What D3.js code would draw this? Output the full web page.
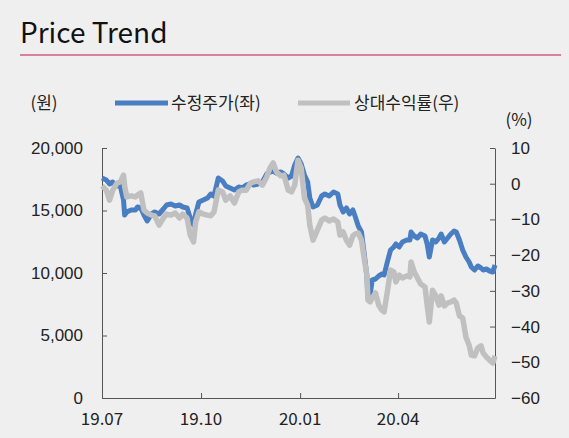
<!DOCTYPE html>
<html>
<head>
<meta charset="utf-8">
<script src="https://cdn.jsdelivr.net/npm/d3@7"></script>
<style>
  body { margin: 0; background: #efefef; }
  svg { display: block; font-family: "Noto Sans CJK KR", "Noto Sans", sans-serif; }
</style>
</head>
<body>
<div id="chart"></div>
<script>

// dates of the sampled points
var dates = [
  "2019-07-01","2019-07-05","2019-07-08","2019-07-11","2019-07-15","2019-07-18","2019-07-21","2019-07-22",
  "2019-07-24","2019-07-28","2019-08-01","2019-08-03","2019-08-06","2019-08-09","2019-08-12","2019-08-16",
  "2019-08-19","2019-08-23","2019-08-27","2019-08-30","2019-09-03","2019-09-07","2019-09-11","2019-09-14",
  "2019-09-18","2019-09-21","2019-09-24","2019-09-26","2019-09-29","2019-10-03","2019-10-07","2019-10-10",
  "2019-10-13","2019-10-17","2019-10-21","2019-10-24","2019-10-28","2019-11-01","2019-11-05","2019-11-08",
  "2019-11-12","2019-11-16","2019-11-19","2019-11-23","2019-11-27","2019-12-01","2019-12-04","2019-12-07",
  "2019-12-10","2019-12-14","2019-12-17","2019-12-21","2019-12-24","2019-12-27","2019-12-30","2020-01-02",
  "2020-01-05","2020-01-08","2020-01-10","2020-01-13","2020-01-17","2020-01-21","2020-01-24","2020-01-28",
  "2020-02-01","2020-02-05","2020-02-07","2020-02-10","2020-02-13","2020-02-16","2020-02-19","2020-02-21",
  "2020-02-24","2020-02-27","2020-03-01","2020-03-03","2020-03-04","2020-03-06","2020-03-08","2020-03-11",
  "2020-03-14","2020-03-17","2020-03-19","2020-03-22","2020-03-25","2020-03-28","2020-03-30","2020-04-02",
  "2020-04-05","2020-04-09","2020-04-12","2020-04-13","2020-04-16","2020-04-19","2020-04-22","2020-04-26",
  "2020-04-28","2020-04-30","2020-05-03","2020-05-06","2020-05-09","2020-05-11","2020-05-14","2020-05-17",
  "2020-05-20","2020-05-23","2020-05-25","2020-05-28","2020-05-31","2020-06-03","2020-06-06","2020-06-08",
  "2020-06-11","2020-06-14","2020-06-17","2020-06-19","2020-06-22","2020-06-25","2020-06-28","2020-06-30"
];

// 수정주가 (원, left axis)
var price = [
  17600,17440,17120,17280,16960,16960,15840,14640,14880,15040,15040,15280,15200,14640,14160,14720,
  14880,14720,15120,15440,15520,15360,15440,15280,15200,14400,13840,14720,15680,15840,16000,16320,
  16160,17600,17360,16960,16800,16640,16880,16800,17040,17120,17040,17120,17280,17920,18080,18160,
  18000,18080,17920,17600,17760,18640,19200,18720,17840,17280,16000,15280,15440,16160,16320,16160,
  16480,16320,15440,14880,15200,14720,15040,14560,13760,13280,11200,9760,8000,8240,9440,9520,
  9760,9920,9840,10880,11840,12080,12320,12080,12480,12640,12640,13280,12960,12800,13120,12960,
  12320,11280,12640,12480,12800,13120,12480,12800,13120,13360,13280,12640,11840,11280,10880,10480,
  10240,10560,10400,10240,10320,10160,10080,10640
];

// 상대수익률 (%, right axis)
var relReturn = [
  -0.6,-1.8,-4.6,-1.8,0.2,0.5,2.4,-0.6,-3.7,-3.4,-3.7,-3.2,-2.6,-7.4,-8.2,-8.8,
  -9.0,-11.6,-9.6,-8.5,-8.8,-8.2,-9.6,-8.5,-9.6,-14.4,-16.3,-10.7,-7.9,-8.5,-8.8,-9.0,
  -7.9,-1.8,-2.3,-4.6,-3.4,-5.4,-2.3,-1.8,-1.8,0.2,0.5,0.8,-0.4,1.9,4.4,5.8,
  3.3,2.2,2.4,-1.8,-2.3,-0.4,6.6,4.4,-4.0,-6.0,-11.6,-15.8,-13.0,-10.2,-9.6,-10.4,
  -9.9,-10.7,-14.4,-13.5,-15.8,-17.2,-14.6,-14.1,-13.8,-15.8,-21.9,-25.6,-32.6,-33.1,-32.0,-30.6,
  -34.0,-35.4,-35.9,-30.3,-24.2,-24.7,-27.5,-25.6,-26.4,-25.8,-26.1,-21.9,-24.7,-26.4,-28.1,-28.9,
  -34.0,-38.7,-29.8,-31.4,-34.0,-31.4,-34.2,-33.4,-33.1,-32.6,-33.4,-37.0,-37.6,-42.9,-45.2,-48.0,
  -48.2,-46.0,-45.4,-47.4,-48.5,-49.4,-50.2,-48.2
];

// axis ticks
var leftTicks = [0, 5000, 10000, 15000, 20000];
var rightTicks = [10, 0, -10, -20, -30, -40, -50, -60];
var xTickDates = ["2019-07-01", "2019-10-01", "2020-01-01", "2020-04-01"];
var xTickLabels = ["19.07", "19.10", "20.01", "20.04"];

var seriesNames = ["수정주가(좌)", "상대수익률(우)"];
var colors = ["#4a7ec2", "#c0c0c0"];

var svgWidth = 569;
var svgHeight = 438;

var margin = { top: 148, right: 74, bottom: 40, left: 102 };
var width = svgWidth - margin.left - margin.right;
var height = svgHeight - margin.top - margin.bottom;

var parseDate = d3.timeParse("%Y-%m-%d");

var data = dates.map(function(d, i) {
  return { date: parseDate(d), price: price[i], rel: relReturn[i] };
});

var svg = d3.select("#chart")
  .append("svg")
  .attr("width", svgWidth)
  .attr("height", svgHeight);

// title and red rule
svg.append("text")
  .attr("x", 20)
  .attr("y", 43)
  .attr("font-size", "28px")
  .attr("fill", "#111")
  .text("Price Trend");

svg.append("line")
  .attr("x1", 20)
  .attr("x2", 561)
  .attr("y1", 55)
  .attr("y2", 55)
  .attr("stroke", "#d35c7c")
  .attr("stroke-width", 1.5);

var chartGroup = svg.append("g")
  .attr("transform", `translate(${margin.left}, ${margin.top})`);

// scales
var xTimeScale = d3.scaleTime()
  .domain([parseDate("2019-07-01"), parseDate("2020-06-30")])
  .range([0, width]);

var yLeftScale = d3.scaleLinear()
  .domain([0, 20000])
  .range([height, 0]);

var yRightScale = d3.scaleLinear()
  .domain([-60, 10])
  .range([height, 0]);

var axisColor = "#555";
var labelSize = "17px";

// axes (ticks point inward)
var bottomAxis = d3.axisBottom(xTimeScale)
  .tickValues(xTickDates.map(parseDate).concat([parseDate("2020-06-30")]))
  .tickSizeInner(-5)
  .tickSizeOuter(0)
  .tickFormat("");

var leftAxis = d3.axisLeft(yLeftScale)
  .tickValues(leftTicks)
  .tickSizeInner(-5)
  .tickSizeOuter(0)
  .tickPadding(19)
  .tickFormat(d3.format(","));

var rightAxis = d3.axisRight(yRightScale)
  .tickValues(rightTicks)
  .tickSizeInner(-5)
  .tickSizeOuter(0)
  .tickPadding(16)
  .tickFormat(function(d) { return d < 0 ? "\u2212" + Math.abs(d) : d; });

var xAxisG = chartGroup.append("g")
  .attr("transform", `translate(0, ${height})`)
  .call(bottomAxis);

var yLeftG = chartGroup.append("g").call(leftAxis);

var yRightG = chartGroup.append("g")
  .attr("transform", `translate(${width}, 0)`)
  .call(rightAxis);

[xAxisG, yLeftG, yRightG].forEach(function(g) {
  g.select(".domain").attr("stroke", axisColor);
  g.selectAll(".tick line").attr("stroke", axisColor);
  g.selectAll("text")
    .attr("font-size", labelSize)
    .attr("fill", "#222")
    .attr("font-family", "inherit");
});

// x labels sit below the axis
chartGroup.append("g")
  .selectAll("text")
  .data(xTickDates)
  .enter()
  .append("text")
  .attr("x", d => xTimeScale(parseDate(d)))
  .attr("y", height + 27)
  .attr("text-anchor", "middle")
  .attr("font-size", labelSize)
  .attr("fill", "#222")
  .text((d, i) => xTickLabels[i]);

// lines
var priceLine = d3.line()
  .x(d => xTimeScale(d.date))
  .y(d => yLeftScale(d.price));

var relLine = d3.line()
  .x(d => xTimeScale(d.date))
  .y(d => yRightScale(d.rel));

chartGroup.append("path")
  .datum(data)
  .attr("fill", "none")
  .attr("stroke", colors[0])
  .attr("stroke-width", 5)
  .attr("stroke-linejoin", "round")
  .attr("d", priceLine);

chartGroup.append("path")
  .datum(data)
  .attr("fill", "none")
  .attr("stroke", colors[1])
  .attr("stroke-width", 5.5)
  .attr("stroke-linejoin", "round")
  .attr("d", relLine);

// unit labels
svg.append("text")
  .attr("x", 44)
  .attr("y", 109)
  .attr("text-anchor", "middle")
  .attr("font-size", labelSize)
  .attr("fill", "#222")
  .text("(원)");

svg.append("text")
  .attr("x", 519)
  .attr("y", 126)
  .attr("text-anchor", "middle")
  .attr("font-size", labelSize)
  .attr("fill", "#222")
  .text("(%)");

// legend
var legendItems = [
  { x1: 115, x2: 168, tx: 171 },
  { x1: 298, x2: 350, tx: 354 }
];

var legendGroup = svg.append("g");

legendItems.forEach(function(item, i) {
  legendGroup.append("line")
    .attr("x1", item.x1)
    .attr("x2", item.x2)
    .attr("y1", 103)
    .attr("y2", 103)
    .attr("stroke", colors[i])
    .attr("stroke-width", 5);
  legendGroup.append("text")
    .attr("x", item.tx)
    .attr("y", 109)
    .attr("font-size", labelSize)
    .attr("fill", "#222")
    .text(seriesNames[i]);
});
</script>
</body>
</html>
